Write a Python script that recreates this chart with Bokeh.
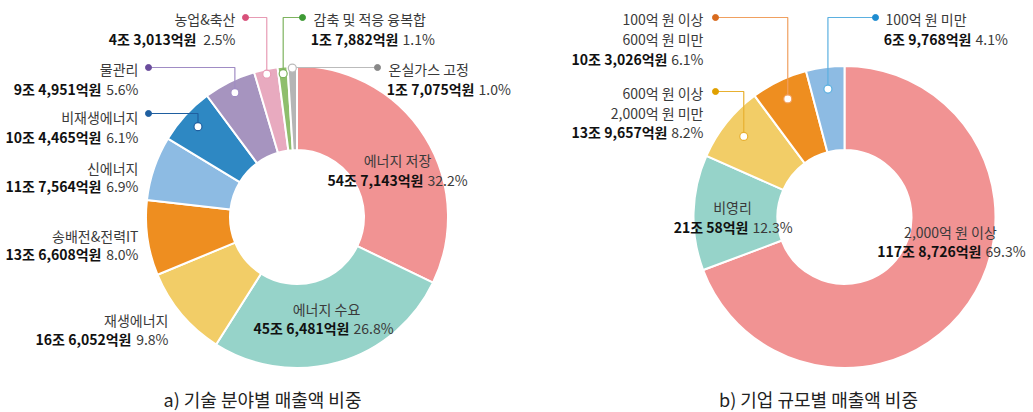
import math
from bokeh.plotting import figure
from bokeh.models import Range1d
from bokeh.embed import file_html
from bokeh.resources import INLINE
from bokeh.core.properties import value

# ---------------- data ----------------
tech_names = [["에너지 저장"], ["에너지 수요"], ["재생에너지"], ["송배전&전력IT"], ["신에너지"],
              ["비재생에너지"], ["물관리"], ["농업&축산"], ["감축 및 적응 융복합"], ["온실가스 고정"]]
tech_amounts = ["54조 7,143억원", "45조 6,481억원", "16조 6,052억원", "13조 6,608억원", "11조 7,564억원",
                "10조 4,465억원", "9조 4,951억원", "4조 3,013억원", "1조 7,882억원", "1조 7,075억원"]
tech_values = [547143, 456481, 166052, 136608, 117564, 104465, 94951, 43013, 17882, 17075]  # 억원
tech_pct = [32.2, 26.8, 9.8, 8.0, 6.9, 6.1, 5.6, 2.5, 1.1, 1.0]
tech_colors = ["#F19393", "#96D3C9", "#F2CD67", "#EE8E20", "#8DBBE3",
               "#2E88C3", "#A694BF", "#E8AABF", "#8EBE6C", "#B5B5B5"]

size_names = [["2,000억 원 이상"], ["비영리"], ["600억 원 이상", "2,000억 원 미만"],
              ["100억 원 이상", "600억 원 미만"], ["100억 원 미만"]]
size_amounts = ["117조 8,726억원", "21조 58억원", "13조 9,657억원", "10조 3,026억원", "6조 9,768억원"]
size_values = [1178726, 210058, 139657, 103026, 69768]  # 억원
size_pct = [69.3, 12.3, 8.2, 6.1, 4.1]
size_colors = ["#F19393", "#96D3C9", "#F2CD67", "#EE8E20", "#8DBBE3"]

captions = ["a) 기술 분야별 매출액 비중", "b) 기업 규모별 매출액 비중"]

# ---------------- layout (image pixel coordinates) ----------------
FONT = "Noto Sans CJK KR"
FS = "14px"
IMG_H = 412
W, H = 1033, 412


def Y(y):
    return IMG_H - y


# per-slice label layout: (mode, x, line ys, split x, leader)
# leader: (anchor radius, horizontal line y, dot x, line colour, dot colour)
tech_layout = [
    ("center", 397, [159, 179], 423, None),
    ("center", 326, [308.5, 327.5], 349, None),
    ("right", 168, [319.5, 338.5], 131, None),
    ("right", 138, [235, 253.5], 101, None),
    ("right", 138, [167, 185.5], 101, None),
    ("right", 138, [116.5, 136], 101, (134, 113, 148, "#1F5FA0", "#1F5FA0")),
    ("right", 138, [68, 88], 101, (139, 67, 148, "#A08CC4", "#6A4C9C")),
    ("right", 235, [18, 38.5], 196, (146, 17, 245, "#E79BB4", "#D8507A")),
    ("left", 313, [18, 38.5], 398, (144, 17, 302, "#7DB35E", "#3E9A35")),
    ("left", 388, [68, 88], 474, (149, 67, 377, "#BBBBBB", "#888888")),
]
size_layout = [
    ("center", 950, [231, 250.5], 981, None),
    ("center", 732, [206, 226], 748, None),
    ("right", 703, [92, 112, 131.5], 667, (129, 91, 715, "#E8B030", "#E0A000")),
    ("right", 703, [18, 38, 58], 667, (131, 17, 715, "#F0A060", "#D86A1E")),
    ("left", 885, [18, 38.5], 971, (129, 17, 875, "#5BB0E0", "#1E8CD0")),
]

charts = [
    dict(cx=296.5, cy=216.5, names=tech_names, amounts=tech_amounts, values=tech_values,
         pct=tech_pct, colors=tech_colors, layout=tech_layout, cap_x=262),
    dict(cx=844, cy=216.5, names=size_names, amounts=size_amounts, values=size_values,
         pct=size_pct, colors=size_colors, layout=size_layout, cap_x=818),
]
R_OUT, R_IN = 151, 67

p = figure(width=W, height=H, x_range=Range1d(0, W), y_range=Range1d(Y(H), Y(0)),
           output_backend="svg", toolbar_location=None, min_border=0,
           x_axis_location=None, y_axis_location=None)
p.grid.visible = False
p.outline_line_color = None

NAME_C = "#3A3A3A"
BOLD_C = "#111111"

for ci, ch in enumerate(charts):
    total = float(sum(ch["values"]))
    cum = 0.0
    starts, ends, mids = [], [], []
    for v in ch["values"]:
        a0 = math.pi / 2 - 2 * math.pi * cum / total
        cum += v
        a1 = math.pi / 2 - 2 * math.pi * cum / total
        starts.append(a0)
        ends.append(a1)
        mids.append((a0 + a1) / 2)
    cyd = Y(ch["cy"])
    p.annular_wedge(x=[ch["cx"]] * len(starts), y=[cyd] * len(starts), inner_radius=R_IN,
                    outer_radius=R_OUT, start_angle=starts, end_angle=ends, direction="clock",
                    fill_color=ch["colors"], line_color="white", line_width=2)

    for i, (mode, lx, ys, split, leader) in enumerate(ch["layout"]):
        names = ch["names"][i]
        pct_txt = f"{ch['pct'][i]:.1f}%"
        p.text(x=[lx] * len(names), y=[Y(yy) for yy in ys[:len(names)]], text=names,
               text_font=value(FONT), text_font_size=FS, text_color=NAME_C,
               text_align=mode, text_baseline="middle")
        ya = Y(ys[-1])
        if mode == "right":
            bx, balign, px, palign = split, "right", lx, "right"
        else:
            bx, balign, px, palign = split, "right", split + 4, "left"
        p.text(x=[bx], y=[ya], text=[ch["amounts"][i]], text_font=value(FONT),
               text_font_size=FS, text_font_style="bold", text_color=BOLD_C,
               text_align=balign, text_baseline="middle")
        p.text(x=[px], y=[ya], text=[pct_txt], text_font=value(FONT), text_font_size=FS,
               text_color=NAME_C, text_align=palign, text_baseline="middle")

        if leader:
            r, ly, dot_x, lc, dc = leader
            ax = ch["cx"] + r * math.cos(mids[i])
            ay = cyd + r * math.sin(mids[i])
            p.line(x=[ax, ax, dot_x], y=[ay, Y(ly), Y(ly)], line_color=lc, line_width=1.2)
            p.scatter(x=[dot_x], y=[Y(ly)], size=6, marker="circle", fill_color=dc, line_color=dc)
            p.scatter(x=[ax], y=[ay], size=8, marker="circle", fill_color="white", line_color=lc,
                      line_width=1.2)

    p.text(x=[ch["cap_x"]], y=[Y(398)], text=[captions[ci]], text_font=value(FONT),
           text_font_size="18px", text_color="#222222", text_align="center", text_baseline="middle")

open("out.html", "w").write(file_html(p, INLINE))
